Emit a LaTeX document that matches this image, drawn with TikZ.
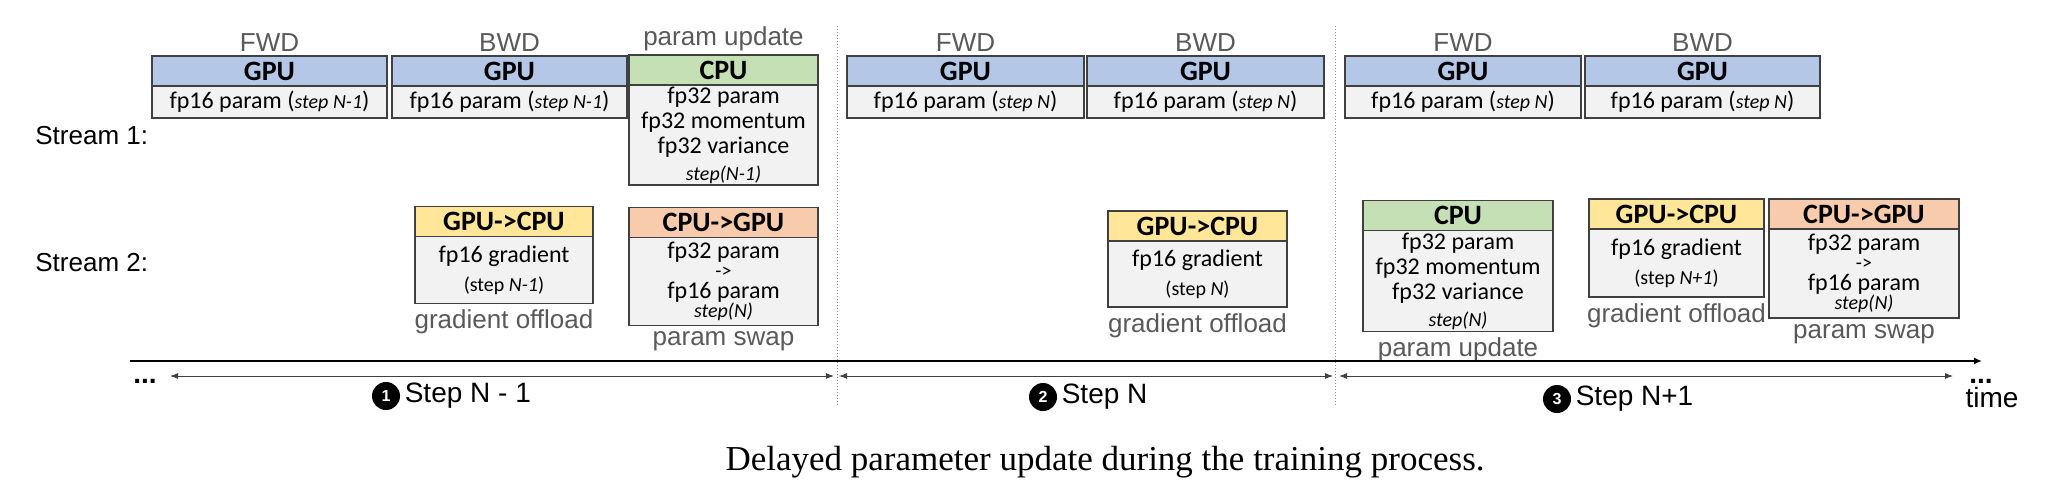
\documentclass[tikz,border=0pt]{standalone}
\usepackage{fontspec}
\setmainfont{Carlito}
\newfontfamily\LabFont{Liberation Sans}
\newfontfamily\CapFont{Liberation Serif}
\usepackage{tikz}
\usetikzlibrary{positioning,arrows.meta}
\definecolor{GpuBlue}{HTML}{B4C7E7}
\definecolor{CpuGreen}{HTML}{C5E0B4}
\definecolor{OffYellow}{HTML}{FFE699}
\definecolor{SwapOrange}{HTML}{F8CBAD}
\definecolor{BodyGray}{HTML}{F2F2F2}
\definecolor{BoxLine}{HTML}{404040}
\definecolor{LabGray}{HTML}{595959}
\newcommand{\Px}{0.5pt}
\newcommand{\Sm}{\fontsize{10}{11}\selectfont}
\tikzset{Head/.style={
    draw=BoxLine,
    line width=0.9pt,
    inner sep=0pt,
    outer sep=0pt,
    minimum height=30*\Px,
    font=\fontsize{14}{16}\selectfont\bfseries,
    },
  Body/.style={
    draw=BoxLine,
    line width=0.9pt,
    fill=BodyGray,
    inner sep=0pt,
    outer sep=0pt,
    align=center,
    font=\fontsize{12}{12.5}\selectfont,
    },
  Phase/.style={inner sep=0pt, text=LabGray, font=\LabFont\fontsize{13}{15}\selectfont},
  Stream/.style={inner sep=0pt, anchor=west, font=\LabFont\fontsize{13}{15}\selectfont},
  StepDot/.style={circle, fill=black, text=white, inner sep=0pt, minimum size=14pt,
    font=\LabFont\bfseries\fontsize{8}{8}\selectfont},
  StepText/.style={inner sep=0pt, font=\LabFont\fontsize{14}{16}\selectfont},
  Dots/.style={inner sep=0pt, anchor=base, font=\LabFont\bfseries\fontsize{14}{16}\selectfont},
  Span/.style={{Latex[length=4pt,width=3pt]}-{Latex[length=4pt,width=3pt]}, line width=0.5pt, draw=BoxLine},
  Timeline/.style={-{Latex[length=4pt,width=3.5pt]}, line width=1pt, draw=black},
  Sep/.style={densely dotted, line width=0.5pt, draw=black!45},
}

\begin{document}
\begin{tikzpicture}[x=\Px, y=-\Px]
    \useasboundingbox (0,0) rectangle (2056,498);

    \node [Stream] (streamA) at (35,136) {Stream 1:};
    \node [Stream] (streamB) at (35,263) {Stream 2:};

    % step N-1
    \node [Head, fill=GpuBlue, minimum width=235*\Px] (fwdA) at (269.5,71) {GPU};
    \node [Body, minimum width=235*\Px, minimum height=32*\Px, below=0pt of fwdA] (fwdAbody) {fp16 param (\textit{\Sm step N-1})};
    \node [Phase, above=2pt of fwdA] (fwdAlab) {FWD};
    \node [Head, fill=GpuBlue, minimum width=235*\Px] (bwdA) at (509.5,71) {GPU};
    \node [Body, minimum width=235*\Px, minimum height=32*\Px, below=0pt of bwdA] (bwdAbody) {fp16 param (\textit{\Sm step N-1})};
    \node [Phase, above=2pt of bwdA] (bwdAlab) {BWD};
    \node [Head, fill=CpuGreen, minimum width=189*\Px] (cpuA) at (723.5,70) {CPU};
    \node [Body, minimum width=189*\Px, minimum height=100*\Px, below=0pt of cpuA] (cpuAbody) {fp32 param\\fp32 momentum\\fp32 variance\\[1pt]{\Sm\itshape step(N-1)}};
    \node [Phase, above=2pt of cpuA] (cpuAlab) {param update};
    \node [Head, fill=OffYellow, minimum width=178*\Px] (gcA) at (504,221.5) {GPU->CPU};
    \node [Body, minimum width=178*\Px, minimum height=67*\Px, below=0pt of gcA] (gcAbody) {fp16 gradient\\[2pt]{\Sm (step \textit{N-1})}};
    \node [Phase, below=3pt of gcAbody] (gcAlab) {gradient offload};
    \node [Head, fill=SwapOrange, minimum width=189*\Px] (cgA) at (723.5,222.5) {CPU->GPU};
    \node [Body, minimum width=189*\Px, minimum height=88*\Px, below=0pt of cgA] (cgAbody) {fp32 param\\[-3pt]{\Sm ->}\\[-2pt]fp16 param\\[-3pt]{\Sm\itshape step(N)}};
    \node [Phase, below=3pt of cgAbody] (cgAlab) {param swap};

    % step N
    \node [Head, fill=GpuBlue, minimum width=237*\Px] (fwdB) at (965.5,71) {GPU};
    \node [Body, minimum width=237*\Px, minimum height=32*\Px, below=0pt of fwdB] (fwdBbody) {fp16 param (\textit{\Sm step N})};
    \node [Phase, above=2pt of fwdB] (fwdBlab) {FWD};
    \node [Head, fill=GpuBlue, minimum width=237*\Px] (bwdB) at (1205.5,71) {GPU};
    \node [Body, minimum width=237*\Px, minimum height=32*\Px, below=0pt of bwdB] (bwdBbody) {fp16 param (\textit{\Sm step N})};
    \node [Phase, above=2pt of bwdB] (bwdBlab) {BWD};
    \node [Head, fill=OffYellow, minimum width=179*\Px] (gcB) at (1197.5,226) {GPU->CPU};
    \node [Body, minimum width=179*\Px, minimum height=66*\Px, below=0pt of gcB] (gcBbody) {fp16 gradient\\[2pt]{\Sm (step \textit{N})}};
    \node [Phase, below=3pt of gcBbody] (gcBlab) {gradient offload};

    % step N+1
    \node [Head, fill=GpuBlue, minimum width=236*\Px] (fwdC) at (1463,71) {GPU};
    \node [Body, minimum width=236*\Px, minimum height=32*\Px, below=0pt of fwdC] (fwdCbody) {fp16 param (\textit{\Sm step N})};
    \node [Phase, above=2pt of fwdC] (fwdClab) {FWD};
    \node [Head, fill=GpuBlue, minimum width=235*\Px] (bwdC) at (1702.5,71) {GPU};
    \node [Body, minimum width=235*\Px, minimum height=32*\Px, below=0pt of bwdC] (bwdCbody) {fp16 param (\textit{\Sm step N})};
    \node [Phase, above=2pt of bwdC] (bwdClab) {BWD};
    \node [Head, fill=CpuGreen, minimum width=190*\Px] (cpuC) at (1458,215.5) {CPU};
    \node [Body, minimum width=190*\Px, minimum height=101*\Px, below=0pt of cpuC] (cpuCbody) {fp32 param\\fp32 momentum\\fp32 variance\\[1pt]{\Sm\itshape step(N)}};
    \node [Phase, below=3pt of cpuCbody] (cpuClab) {param update};
    \node [Head, fill=OffYellow, minimum width=175*\Px] (gcC) at (1676.5,214) {GPU->CPU};
    \node [Body, minimum width=175*\Px, minimum height=68*\Px, below=0pt of gcC] (gcCbody) {fp16 gradient\\[2pt]{\Sm (step \textit{N+1})}};
    \node [Phase, below=3pt of gcCbody] (gcClab) {gradient offload};
    \node [Head, fill=SwapOrange, minimum width=190*\Px] (cgC) at (1864,214) {CPU->GPU};
    \node [Body, minimum width=190*\Px, minimum height=89*\Px, below=0pt of cgC] (cgCbody) {fp32 param\\[-3pt]{\Sm ->}\\[-2pt]fp16 param\\[-3pt]{\Sm\itshape step(N)}};
    \node [Phase, below=3pt of cgCbody] (cgClab) {param swap};

    % separators and time axis
    \coordinate (sepAtop) at (837,26);
    \coordinate (sepAbot) at (837,407);
    \coordinate (sepBtop) at (1335,26);
    \coordinate (sepBbot) at (1335,407);
    \draw [Sep] (sepAtop) -- (sepAbot);
    \draw [Sep] (sepBtop) -- (sepBbot);

    \coordinate (timeStart) at (130,361);
    \coordinate (timeEnd) at (1982,361);
    \draw [Timeline] (timeStart) -- (timeEnd);

    \coordinate (spanA0) at (170,376);
    \coordinate (spanA1) at (834,376);
    \coordinate (spanB0) at (839,376);
    \coordinate (spanB1) at (1333,376);
    \coordinate (spanC0) at (1339,376);
    \coordinate (spanC1) at (1953,376);
    \draw [Span] (spanA0) -- (spanA1);
    \draw [Span] (spanB0) -- (spanB1);
    \draw [Span] (spanC0) -- (spanC1);

    \node [Dots] (dotsL) at (145,383) {...};
    \node [Dots] (dotsR) at (1981,383) {...};
    \node [StepText] (timeLab) at (1992,397) {time};

    \node [StepDot] (dotA) at (386,396) {1};
    \node [StepText, right=2pt of dotA] (stepA) {Step N - 1};
    \node [StepDot] (dotB) at (1043,397) {2};
    \node [StepText, right=2pt of dotB] (stepB) {Step N};
    \node [StepDot] (dotC) at (1557,399) {3};
    \node [StepText, right=2pt of dotC] (stepC) {Step N+1};

    \node [anchor=base, inner sep=0pt, font=\CapFont\fontsize{17.5}{20}\selectfont] (caption) at (1105,470) {Delayed parameter update during the training process.};
\end{tikzpicture}
\end{document}
